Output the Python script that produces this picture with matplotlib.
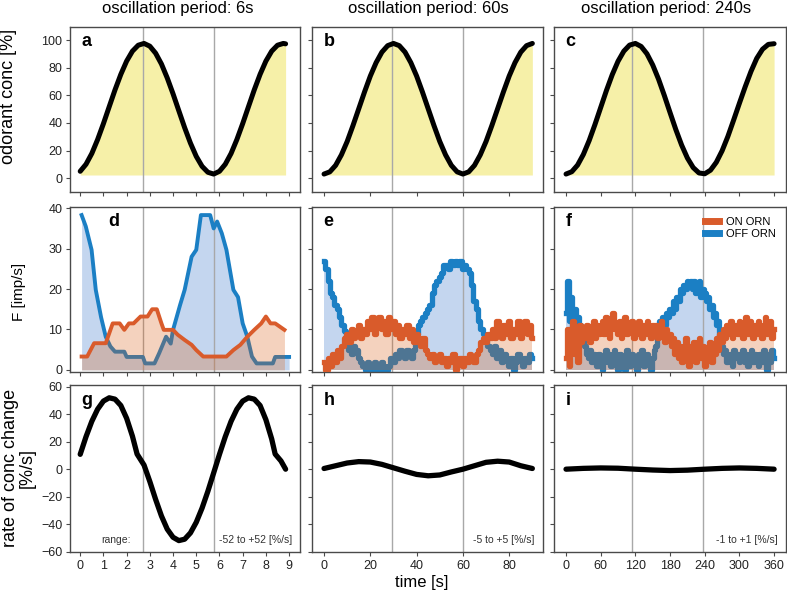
#Odorant oscillation figure: concentration, ORN firing and rate of change for 3 periods
import numpy as np
import matplotlib
matplotlib.use("Agg")
import matplotlib.pyplot as plt
from matplotlib.lines import Line2D

plt.rcParams['font.family'] = ['Liberation Sans', 'DejaVu Sans']

# ---- data ----
periodLabels = ["6s", "60s", "240s"]
panelLetters = ["a", "b", "c", "d", "e", "f", "g", "h", "i"]
rangeLabels = ["-52 to +52 [%/s]", "-5 to +5 [%/s]", "-1 to +1 [%/s]"]
markerTimes = [[2.7, 5.75], [29.5, 60.0], [115.0, 237.0]]

# odorant concentration [%]
conc6sT = list(np.arange(0, 8.8, 0.25)) + [8.85]
conc6s = [5.0, 10.1, 17.9, 28.0, 39.5, 51.8, 64.0, 75.2, 84.8, 92.0, 96.3, 97.6,
          95.6, 90.5, 82.7, 72.6, 61.1, 48.8, 36.6, 25.4, 15.8, 8.6, 4.3, 3.0,
          5.0, 10.1, 17.9, 28.0, 39.5, 51.8, 64.0, 75.2, 84.8, 92.0, 96.3, 97.6, 97.3]
conc60sT = np.arange(0, 92.5, 2.5)
conc60s = [3.0, 4.6, 9.3, 16.9, 26.6, 38.1, 50.3, 62.5, 74.0, 83.7, 91.3, 96.0, 97.6,
           96.0, 91.3, 83.7, 74.0, 62.5, 50.3, 38.1, 26.6, 16.9, 9.3, 4.6, 3.0,
           4.6, 9.3, 16.9, 26.6, 38.1, 50.3, 62.5, 74.0, 83.7, 91.3, 96.0, 97.6]
conc240sT = np.arange(0, 370, 10)
conc240s = [3.0, 4.7, 9.5, 17.2, 27.2, 38.8, 51.2, 63.6, 75.0, 84.7, 92.0, 96.4, 97.6,
            95.4, 90.1, 82.0, 71.8, 60.0, 47.5, 35.2, 24.0, 14.6, 7.7, 3.8, 3.2,
            5.8, 11.5, 19.8, 30.2, 42.1, 54.3, 66.2, 77.3, 86.8, 93.4, 96.9, 97.4]

# ORN firing rates [imp/s], 6 s period
off6sT = [0.06, 0.24, 0.49, 0.67, 0.9, 1.1, 1.3, 1.5, 1.9, 2.0, 2.7, 2.8, 3.2, 3.4, 3.7,
          3.9, 4.0, 4.3, 4.5, 4.8, 5.0, 5.2, 5.6, 5.75, 5.9, 6.1, 6.3, 6.6, 6.8, 7.0,
          7.2, 7.4, 7.6, 8.3, 8.4, 9.0]
off6s = [38.3, 35.5, 29.7, 19.8, 13, 8.2, 5.8, 4.5, 4.5, 3.2, 3.2, 1.6, 1.6, 4.1, 8.2,
         6.5, 9.9, 16, 19.8, 28, 29.7, 38.3, 38.3, 35, 36.7, 33.8, 29.7, 19.8, 18, 11.5,
         8.2, 3.3, 1.6, 1.6, 3.2, 3.2]
on6sT = [0.06, 0.3, 0.6, 1.1, 1.4, 1.7, 1.9, 2.1, 2.3, 2.6, 2.9, 3.1, 3.3, 3.5, 3.6,
         4.0, 4.2, 4.5, 4.8, 5.0, 5.3, 6.3, 6.6, 6.9, 7.2, 7.5, 7.8, 8.0, 8.2, 8.4, 8.8]
on6s = [3.3, 3.3, 6.6, 6.6, 11.5, 11.5, 9.9, 11.5, 11.5, 13.2, 13.2, 15, 15, 11.5, 9.9,
        9.9, 8.7, 7.4, 6.2, 4.9, 3.3, 3.3, 4.9, 6.2, 8.2, 9.9, 11.5, 13.2, 11.5, 11.5, 9.9]

# 60 s period, one value per second
orn60sT = np.arange(0, 91, 1)
off60s = [27, 25, 22, 19, 18, 16, 15, 13, 11, 9.5, 7, 5, 4, 6, 5, 3, 2, 1, 0, 2,
          1, 0, 2, 1, 0, 2, 1, 0, 1, 3, 2, 4, 3, 5, 4, 3, 5, 4, 3, 5,
          9, 11, 12, 13, 14, 15, 16, 19, 21, 22, 23, 24, 26, 26, 25, 27, 26, 27, 26, 27,
          25, 26, 25, 24, 21, 17, 15, 12, 10, 9, 8, 6, 5, 4, 6, 3, 5, 2, 4, 3,
          1, 3, 0, 2, 4, 3, 1, 3, 2, 4, 3]
on60s = [2, 0, 3, 1, 4, 2, 5, 3, 6, 8, 9, 7, 10, 8, 9, 11, 8, 10, 9, 12,
         10, 13, 9, 11, 13, 10, 12, 9, 13, 10, 12, 9, 11, 8, 10, 9, 11, 8, 10, 7,
         9, 7, 6, 8, 5, 4, 3, 4, 2, 3, 4, 2, 3, 1, 3, 2, 4, 0, 2, 3,
         1, 3, 2, 4, 3, 2, 4, 5, 7, 8, 7, 9, 8, 10, 8, 12, 9, 8, 11, 9,
         12, 8, 10, 9, 12, 8, 10, 12, 9, 11, 8]

# 240 s period, one value every 3 s
orn240sT = np.arange(0, 363, 3)
off240s = [14, 22, 12, 18, 10, 15, 9, 13, 11, 8, 10,
           6, 4, 3, 5, 2, 4, 3, 1, 4, 3,
           0, 3, 5, 2, 4, 1, 3, 5, 2, 0,
           4, 2, 3, 0, 5, 3, 1, 4, 2, 3,
           0, 4, 2, 5, 1, 3, 4, 2, 0, 3,
           5, 6, 9, 12, 10, 13, 11, 14, 13, 15,
           14, 17, 15, 18, 17, 20, 19, 21, 20, 22,
           21, 22, 20, 22, 19, 21, 22, 18, 20, 19,
           17, 18, 15, 16, 13, 14, 11, 12, 8, 6,
           4, 5, 2, 3, 4, 1, 5, 3, 4, 2,
           3, 5, 2, 4, 1, 3, 5, 2, 4, 3,
           1, 4, 2, 5, 3, 0, 4, 2, 5, 3]
on240s = [3, 10, 1, 8, 12, 4, 9, 2, 11, 7, 10,
          8, 11, 9, 7, 10, 12, 8, 11, 9, 10,
          12, 9, 13, 10, 8, 12, 14, 10, 11, 9,
          12, 8, 10, 13, 9, 11, 10, 12, 8, 11,
          9, 12, 10, 8, 11, 9, 12, 10, 8, 11,
          9, 11, 8, 10, 12, 9, 7, 10, 8, 9,
          6, 8, 4, 7, 3, 6, 2, 5, 8, 4,
          1, 6, 3, 7, 2, 5, 8, 3, 6, 1,
          5, 3, 7, 2, 6, 4, 8, 5, 9, 7,
          10, 8, 11, 9, 12, 8, 10, 11, 9, 12,
          10, 8, 11, 13, 9, 12, 10, 8, 11, 9,
          12, 10, 8, 11, 13, 9, 10, 12, 8, 10]

# rate of concentration change [%/s]
rate6sT = [0, 0.25, 0.5, 0.75, 1.0, 1.25, 1.5, 1.75, 2.0, 2.25, 2.45, 2.75, 3.0, 3.25,
           3.5, 3.75, 4.0, 4.25, 4.5, 4.75, 5.0, 5.25, 5.5, 5.75, 6.0, 6.25, 6.5, 6.75,
           7.0, 7.25, 7.5, 7.75, 8.0, 8.25, 8.4, 8.65, 8.85]
rate6s = [10.8, 23.6, 34.8, 43.6, 49.5, 51.9, 50.9, 46.3, 37, 24, 11, 3, -9, -22,
          -34, -43.6, -49.5, -51.9, -50.9, -46.3, -38.6, -28.3, -16.1, -2.7, 10.8, 23.6,
          34.8, 43.6, 49.5, 51.9, 50.9, 46.3, 36, 22, 11, 6, 0]
rate60sT = np.arange(0, 95, 5)
rate60s = [0.5, 2.5, 4.5, 5.5, 5.2, 3.5, 1.0, -1.5, -3.8, -4.8, -4.2, -2.0, 0.0,
           2.5, 5.0, 5.8, 5.2, 2.5, 0.5]
rate240sT = np.arange(0, 390, 30)
rate240s = [0, 0.6, 0.9, 0.7, 0, -0.6, -1.0, -0.7, 0, 0.6, 0.9, 0.6, 0]

# ---- styling ----
onColor = "#D95B2B"
onFill = "#DA5C10"
offColor = "#1B7FC4"
offFill = "#C4D6EF"
yellowFill = "#F6F0A8"
markerColor = "#A8A8A8"
spineColor = "#4A4A4A"

colLefts = [70, 312, 554]
colWidths = [230, 231, 232]
rowTops = [27, 207, 385]
rowBottoms = [192, 372.3, 552]
xLimits = [(-0.44, 9.47), (-5.2, 94.6), (-20.8, 380.6)]
xTicks = [np.arange(0, 10, 1), np.arange(0, 100, 20), np.arange(0, 420, 60)]
yLimits = [(-10, 109.5), (-0.6, 40.3), (-60.2, 61.2)]
yTicks = [np.arange(0, 120, 20), np.arange(0, 50, 10), np.arange(-60, 80, 20)]

W, H = 787, 594


def styleAxes(ax, row, col):
    """sets limits, ticks and spines of one panel"""
    ax.set_xlim(*xLimits[col])
    ax.set_ylim(*yLimits[row])
    ax.set_xticks(xTicks[col])
    ax.set_yticks(yTicks[row])
    ax.tick_params(direction="out", length=3, width=0.8, color=spineColor,
                   labelsize=9, labelcolor="#222222", pad=2.5)
    if row < 2:
        ax.set_xticklabels([])
    if col > 0:
        ax.set_yticklabels([])
    for s in ax.spines.values():
        s.set_color(spineColor)
        s.set_linewidth(1.0)
    for m in markerTimes[col]:
        ax.axvline(m, color=markerColor, lw=1.0, zorder=1.5)
    ax.text(0.05 if not (row == 1 and col == 0) else 0.165, 0.91,
            panelLetters[row * 3 + col], transform=ax.transAxes,
            fontsize=13, fontweight="bold", ha="left", va="center", zorder=5)


def drawConc(ax, t, c):
    ax.fill_between(t, 2.3, c, color=yellowFill, lw=0, zorder=1)
    ax.plot(t, c, color="black", lw=3.6, solid_capstyle="round", zorder=3)


def drawOrn(ax, tOn, on, tOff, off, stepped):
    step = "mid" if stepped else None
    ds = "steps-mid" if stepped else "default"
    lw = 3.8 if stepped else 2.8
    ax.fill_between(tOff, 0, off, color=offFill, lw=0, step=step, zorder=1)
    ax.plot(tOff, off, color=offColor, lw=lw, drawstyle=ds, zorder=2)
    ax.fill_between(tOn, 0, on, color=onFill, alpha=0.27, lw=0, step=step, zorder=2.5)
    ax.plot(tOn, on, color=onColor, lw=lw, drawstyle=ds, zorder=3)


def drawRate(ax, t, r):
    ax.plot(t, r, color="black", lw=3.8, solid_capstyle="round", zorder=3)


fig = plt.figure(figsize=(W / 100, H / 100), dpi=100)
axes = [[None] * 3 for _ in range(3)]
for row in range(3):
    for col in range(3):
        ax = fig.add_axes([colLefts[col] / W, 1 - rowBottoms[row] / H,
                           colWidths[col] / W, (rowBottoms[row] - rowTops[row]) / H])
        axes[row][col] = ax

concData = [(conc6sT, conc6s), (conc60sT, conc60s), (conc240sT, conc240s)]
ornData = [(on6sT, on6s, off6sT, off6s, False),
           (orn60sT, on60s, orn60sT, off60s, True),
           (orn240sT, on240s, orn240sT, off240s, True)]
rateData = [(rate6sT, rate6s), (rate60sT, rate60s), (rate240sT, rate240s)]

for col in range(3):
    drawConc(axes[0][col], *concData[col])
    drawOrn(axes[1][col], *ornData[col])
    drawRate(axes[2][col], *rateData[col])
    for row in range(3):
        styleAxes(axes[row][col], row, col)
    axes[2][col].text(0.965, 0.072, rangeLabels[col], transform=axes[2][col].transAxes,
                      fontsize=7.5, ha="right", va="center", color="#333333")

axes[2][0].text(0.2, 0.072, "range:", transform=axes[2][0].transAxes,
                fontsize=7.5, ha="center", va="center", color="#333333")

handles = [Line2D([], [], color=onColor, lw=5), Line2D([], [], color=offColor, lw=5)]
axes[1][2].legend(handles, ["ON ORN", "OFF ORN"], loc="upper right", frameon=False,
                  fontsize=8, handlelength=1.3, handletextpad=0.6, labelspacing=0.15,
                  borderaxespad=0.5)

# column titles and axis labels
titleX = [177.5, 428, 666]
for col in range(3):
    fig.text(titleX[col] / W, 1 - 8 / H, "oscillation period: " + periodLabels[col],
             fontsize=12, ha="center", va="center")
fig.text(9 / W, 1 - 96.5 / H, "odorant conc [%]", rotation=90, fontsize=13,
         ha="center", va="center")
fig.text(19 / W, 1 - 291.7 / H, "F [imp/s]", rotation=90, fontsize=11,
         ha="center", va="center")
fig.text(11 / W, 1 - 468 / H, "rate of conc change", rotation=90, fontsize=13,
         ha="center", va="center")
fig.text(27 / W, 1 - 468 / H, "[%/s]", rotation=90, fontsize=13,
         ha="center", va="center")
fig.text(422 / W, 1 - 582 / H, "time [s]", fontsize=12, ha="center", va="center")

fig.savefig("out.png", dpi=100)
